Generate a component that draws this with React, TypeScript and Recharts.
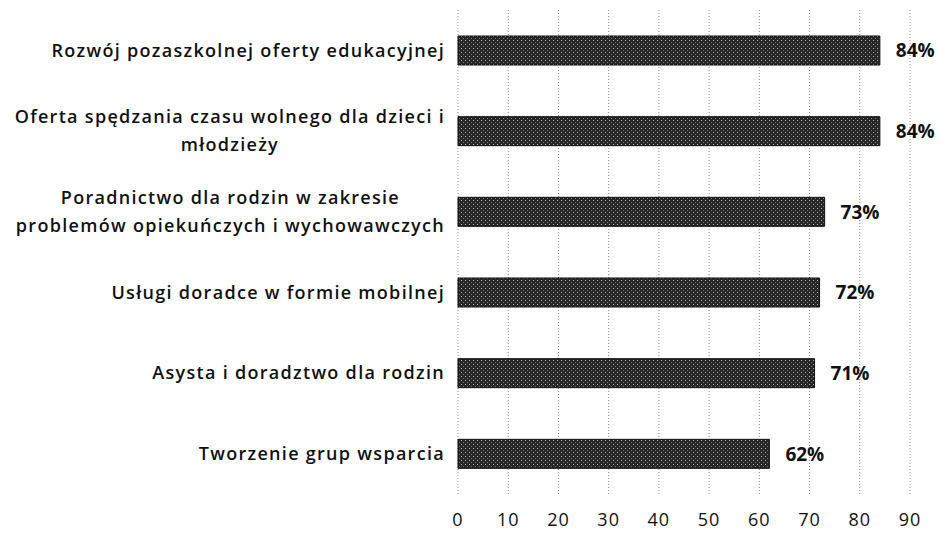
import React from 'react';
import { BarChart, Bar, XAxis, YAxis, CartesianGrid, LabelList } from 'recharts';

const CATEGORIES = [
    'Rozwój pozaszkolnej oferty edukacyjnej',
    'Oferta spędzania czasu wolnego dla dzieci i\nmłodzieży',
    'Poradnictwo dla rodzin w zakresie\nproblemów opiekuńczych i wychowawczych',
    'Usługi doradce w formie mobilnej',
    'Asysta i doradztwo dla rodzin',
    'Tworzenie grup wsparcia',
];
const VALUES = [84, 84, 73, 72, 71, 62];
const X_TICKS = [0, 10, 20, 30, 40, 50, 60, 70, 80, 90];

const FONT = '"Open Sans", Lato, sans-serif';
const LABEL_SIZE = 18;
const LABEL_WEIGHT = 600;
const LETTER_SPACING = 1.3;

const data = CATEGORIES.map((name, i) => ({ name, value: VALUES[i] }));

let ctx: CanvasRenderingContext2D | null = null;
const measure = (s: string) => {
    if (!ctx) ctx = document.createElement('canvas').getContext('2d');
    if (!ctx) return s.length * 9;
    ctx.font = `${LABEL_WEIGHT} ${LABEL_SIZE}px ${FONT}`;
    return ctx.measureText(s).width + LETTER_SPACING * s.length;
};

// multi-line labels are centred as a block whose right edge sits by the axis
const CategoryTick = (props: any) => {
    const { x, y, payload } = props;
    const lines: string[] = String(payload.value).split('\n');
    const w = Math.max(...lines.map(measure));
    const cx = x - w / 2;
    const lineH = 28;
    return (
        <text
            textAnchor="middle"
            fontFamily={FONT}
            fontSize={LABEL_SIZE}
            fontWeight={LABEL_WEIGHT}
            letterSpacing={LETTER_SPACING}
            fill="#111"
        >
            {lines.map((l, i) => (
                <tspan key={i} x={cx} y={y + (i - (lines.length - 1) / 2) * lineH} dy="0.35em">
                    {l}
                </tspan>
            ))}
        </text>
    );
};

const App = () => {
    return (
        <div style={{ position: 'absolute', left: 0, top: 0, background: '#fff' }}>
            <svg width={0} height={0} style={{ position: 'absolute' }}>
                <defs>
                    <pattern id="speckle" width="4" height="4" patternUnits="userSpaceOnUse">
                        <rect width="4" height="4" fill="#262626" />
                        <rect x="1" y="0" width="1" height="1" fill="#b8b8b8" />
                        <rect x="3" y="2" width="1" height="1" fill="#7a7a7a" />
                    </pattern>
                </defs>
            </svg>
            <BarChart
                width={940}
                height={535}
                data={data}
                layout="vertical"
                margin={{ top: 10, right: 30, bottom: 0, left: 0 }}
                barSize={29}
            >
                <CartesianGrid horizontal={false} stroke="#8a8a8a" strokeDasharray="1 2" />
                <XAxis
                    type="number"
                    domain={[0, 90]}
                    ticks={X_TICKS}
                    axisLine={false}
                    tickLine={false}
                    tickMargin={13}
                    height={41}
                    tick={{ fontFamily: FONT, fontSize: 18, fill: '#111', letterSpacing: 1 }}
                />
                <YAxis
                    type="category"
                    dataKey="name"
                    width={458}
                    axisLine={false}
                    tickLine={false}
                    tickMargin={7}
                    interval={0}
                    tick={<CategoryTick />}
                />
                <Bar dataKey="value" fill="url(#speckle)" stroke="#111" strokeWidth={1} isAnimationActive={false}>
                    <LabelList
                        dataKey="value"
                        position="right"
                        offset={16}
                        formatter={(v: any) => `${v}%`}
                        style={{ fontFamily: FONT, fontSize: 19, fontWeight: 700, fill: '#111' }}
                    />
                </Bar>
            </BarChart>
        </div>
    );
};

export default App;
